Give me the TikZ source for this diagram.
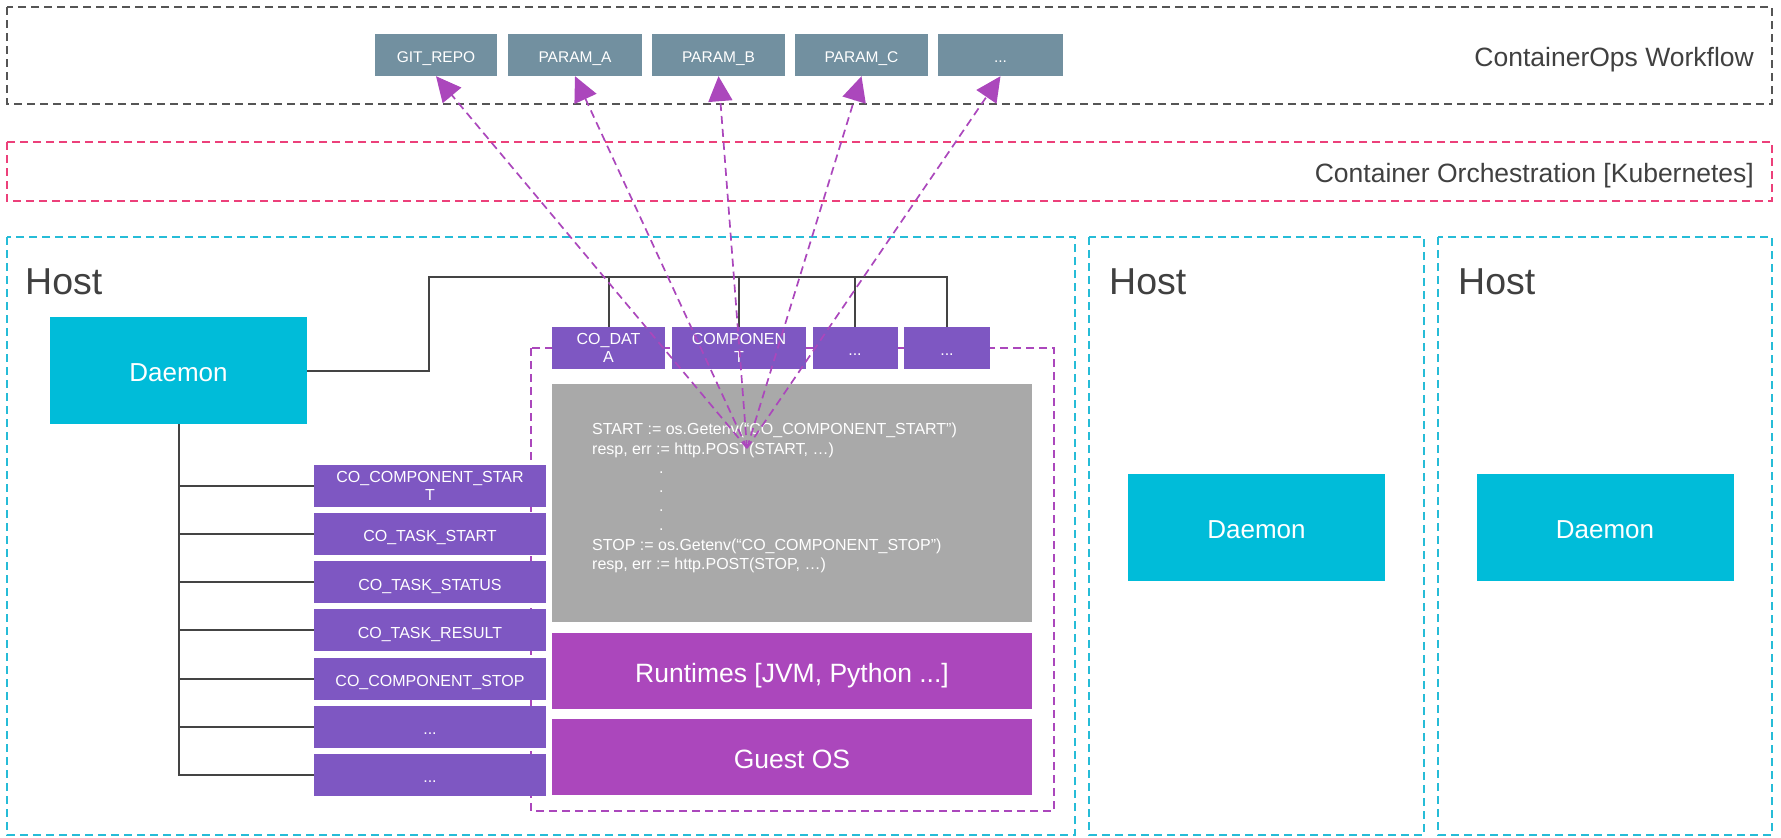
\documentclass[tikz,border=0pt]{standalone}
\usepackage{fontspec}
\setmainfont{Liberation Sans}
\usetikzlibrary{arrows.meta}

\definecolor{slate}{HTML}{7290A0}
\definecolor{daemoncyan}{HTML}{00BCD9}
\definecolor{envpurple}{HTML}{7E57C2}
\definecolor{rtmagenta}{HTML}{AB47BC}
\definecolor{codegray}{HTML}{A9A9A9}
\definecolor{k8spink}{HTML}{EC407A}
\definecolor{hostcyan}{HTML}{26BCD7}
\definecolor{wfgray}{HTML}{555555}
\definecolor{labelgray}{HTML}{404040}
\definecolor{treegray}{HTML}{444444}

\newcommand{\moreitems}{...}

\tikzset{
  frame/.style={line width=2pt, dash pattern=on 8pt off 5pt},
  box/.style={inner sep=0pt, text=white, align=center},
  capheight/.style={text height=#1, text depth=0pt},
  parambox/.style={box, fill=slate, minimum height=42pt, capheight=15.1pt, font=\fontsize{15.5}{18}\selectfont},
  envbox/.style={box, fill=envpurple, minimum height=42pt, font=\fontsize{16}{18.5}\selectfont},
  daemonbox/.style={box, fill=daemoncyan, minimum width=257pt, minimum height=107pt, capheight=22.6pt, font=\fontsize{26}{30}\selectfont},
  layerbox/.style={box, fill=rtmagenta, minimum width=480pt, minimum height=76pt, capheight=23pt, font=\fontsize{26.5}{30}\selectfont},
  hostlabel/.style={anchor=base west, inner sep=0pt, text=labelgray, font=\fontsize{37.5}{40}\selectfont},
  tierlabel/.style={anchor=base east, inner sep=0pt, text=labelgray, font=\fontsize{26.5}{30}\selectfont},
  tree/.style={treegray, line width=2pt},
  flow/.style={rtmagenta, line width=1.7pt, dash pattern=on 8pt off 5pt, -{Triangle[length=25pt,width=24pt]}}
}

\begin{document}
\begin{tikzpicture}[x=1pt,y=-1pt]
    \useasboundingbox (0,0) rectangle (1781,838);

    % Draw the tiers
    \draw[frame, wfgray] (7,7) rectangle (1772,104);
    \draw[frame, k8spink] (7,142) rectangle (1772,201);
    \node[tierlabel] (wflabel) at (1754,66) {ContainerOps Workflow};
    \node[tierlabel] (k8slabel) at (1754,182) {Container Orchestration [Kubernetes]};

    % Draw the hosts
    \draw[frame, hostcyan] (7,237) rectangle (1075,835);
    \draw[frame, hostcyan] (1089,237) rectangle (1424,835);
    \draw[frame, hostcyan] (1438,237) rectangle (1772,835);
    \node[hostlabel] (host1) at (25,294) {Host};
    \node[hostlabel] (host2) at (1109,294) {Host};
    \node[hostlabel] (host3) at (1458,294) {Host};

    % Draw the container
    \draw[frame, rtmagenta] (531,348) rectangle (1054,811);

    % Workflow parameters
    \foreach \name/\x/\w/\txt in {git/436/122/GIT\_REPO, pa/575/134/PARAM\_A,
        pb/718.5/133/PARAM\_B, pc/861.5/133/PARAM\_C, pd/1000.5/125/\moreitems}
        \node[parambox, minimum width=\w pt] (\name) at (\x,55) {\txt};

    % Daemons
    \node[daemonbox] (daemon1) at (178.5,370.5) {Daemon};
    \node[daemonbox] (daemon2) at (1256.5,527) {Daemon};
    \node[daemonbox] (daemon3) at (1605,527) {Daemon};

    % Environment variables
    \node[envbox, minimum width=232pt] (env1) at (430,486) {CO\_COMPONENT\_STAR\\T};
    \foreach \i/\txt in {2/CO\_TASK\_START, 3/CO\_TASK\_STATUS,
        4/CO\_TASK\_RESULT, 5/CO\_COMPONENT\_STOP, 6/\moreitems, 7/\moreitems}
        \node[envbox, capheight=15.5pt, minimum width=232pt] (env\i) at ({430},{486+(\i-1)*48.13}) {\txt};

    \node[envbox, minimum width=113pt] (cvar1) at (608.5,348) {CO\_DAT\\A};
    \node[envbox, minimum width=134pt] (cvar2) at (739,348) {COMPONEN\\T};
    \node[envbox, capheight=15.5pt, minimum width=85pt] (cvar3) at (855,348) {\moreitems};
    \node[envbox, capheight=15.5pt, minimum width=86pt] (cvar4) at (947,348) {\moreitems};

    % Container layers
    \node[box, fill=codegray, minimum width=480pt, minimum height=238pt] (codebox) at (792,503) {};
    \node[anchor=west, inner sep=0pt, text=white, align=left, font=\fontsize{16}{19.2}\selectfont] (code) at (592,498)
        {START := os.Getenv(“CO\_COMPONENT\_START”)\\
         resp, err := http.POST(START, …)\\
         \hspace*{67pt}.\\
         \hspace*{67pt}.\\
         \hspace*{67pt}.\\
         \hspace*{67pt}.\\
         STOP := os.Getenv(“CO\_COMPONENT\_STOP”)\\
         resp, err := http.POST(STOP, …)};
    \node[layerbox] (runtimes) at (792,671) {Runtimes [JVM, Python ...]};
    \node[layerbox] (guestos) at (792,757) {Guest OS};

    % Connect the daemon
    \foreach \i in {1,...,7}
        \draw[tree] (daemon1.south) |- (env\i.west);
    \coordinate (bus) at (429,277);
    \draw[tree] (daemon1.east) -| (bus) -| (cvar4.north);
    \foreach \i in {1,2,3}
        \draw[tree] (cvar\i.north) -- (cvar\i.north |- bus);

    % Parameters read by the component
    \coordinate (hub) at (747,448);
    \foreach \name in {git,pa,pb,pc,pd}
        \draw[flow] (hub) -- (\name.south);

\end{tikzpicture}
\end{document}
